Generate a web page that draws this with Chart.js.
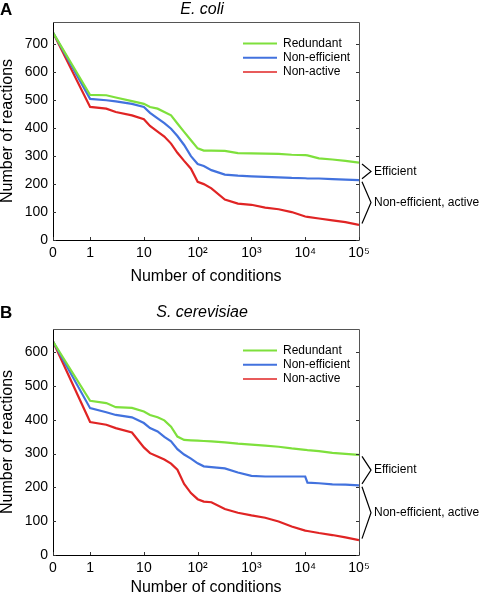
<!DOCTYPE html>
<html>
<head>
<meta charset="utf-8">
<script src="https://cdn.jsdelivr.net/npm/chart.js@4.4.1/dist/chart.umd.min.js"></script>
<style>
  body { margin: 0; background: #fff; }
  .panel { position: absolute; left: 0; width: 481px; }
</style>
</head>
<body>
<div class="panel" style="top:0;height:300px"><canvas id="chart-a"></canvas></div>
<div class="panel" style="top:300px;height:296px"><canvas id="chart-b"></canvas></div>
<script>
// number of conditions, shared by every curve
var conditions = [0, 1, 2, 3, 6, 10, 13, 18, 24, 32, 42, 56, 75, 100, 130, 180, 320, 560, 1000, 1800, 3200, 5600, 10000, 11000, 18000, 32000, 56000, 100000];

// A: E. coli
var ecoliRedundant    = [742, 519, 518, 510, 497, 487, 476, 470, 458, 446, 417, 387, 357, 328, 320, 320, 319, 311, 310, 309, 308, 305, 304, 303, 292, 288, 283, 277];
var ecoliNonEfficient = [742, 505, 500, 496, 487, 476, 455, 435, 418, 398, 372, 340, 300, 272, 265, 250, 234, 230, 228, 226, 224, 222, 221, 220, 220, 218, 216, 214];
var ecoliNonActive    = [742, 476, 470, 458, 446, 432, 408, 388, 370, 345, 312, 283, 255, 208, 200, 185, 145, 130, 126, 116, 110, 100, 84, 83, 77, 70, 64, 54];

// B: S. cerevisiae
var yeastRedundant    = [631, 456, 449, 437, 435, 424, 414, 407, 398, 379, 350, 340, 339, 338, 337, 336, 333, 329, 326, 323, 320, 315, 311, 310, 307, 302, 299, 296];
var yeastNonEfficient = [631, 434, 422, 414, 407, 390, 375, 365, 349, 336, 313, 297, 285, 271, 262, 260, 256, 244, 234, 232, 232, 232, 232, 214, 212, 209, 208, 206];
var yeastNonActive    = [631, 393, 385, 375, 362, 318, 301, 291, 282, 270, 252, 210, 183, 165, 158, 156, 136, 125, 117, 110, 99, 84, 72, 71, 65, 59, 52, 44];

var seriesNames = ['Redundant', 'Non-efficient', 'Non-active'];
var xTickValues = [0, 1, 10, 100, 1000, 10000, 100000];
var xTickLabels = ['0', '1', '10', '10\u00b2', '10\u00b3', '10\u2074', '10\u2075'];
var ecoliYTicks = [0, 100, 200, 300, 400, 500, 600, 700];
var yeastYTicks = [0, 100, 200, 300, 400, 500, 600];

var colors = ['#7ee03c', '#4272de', '#e02424'];
var FONT = "'Liberation Sans', Arial, sans-serif";

// log axis with the zero put a bit to the left of 1
var ZERO_POS = -0.69;
function pos(n) { return n === 0 ? ZERO_POS : Math.log10(n); }

var decor = {
  id: 'decor',
  afterDraw: function (chart, args, opts) {
    var ctx = chart.ctx, a = chart.chartArea;
    var xs = chart.scales.x, ys = chart.scales.y;
    ctx.save();
    ctx.lineWidth = 1;

    // box
    ctx.strokeStyle = '#000';
    ctx.beginPath();
    ctx.moveTo(a.left + 0.5, a.top);
    ctx.lineTo(a.left + 0.5, a.bottom + 0.5);
    ctx.lineTo(a.right + 0.5, a.bottom + 0.5);
    ctx.stroke();
    ctx.strokeStyle = '#555';
    ctx.beginPath();
    ctx.moveTo(a.left, a.top + 0.5);
    ctx.lineTo(a.right + 0.5, a.top + 0.5);
    ctx.lineTo(a.right + 0.5, a.bottom);
    ctx.stroke();

    // ticks pointing inwards
    ctx.strokeStyle = '#333';
    ctx.beginPath();
    xs.ticks.forEach(function (t) {
      var px = Math.round(xs.getPixelForValue(t.value)) + 0.5;
      ctx.moveTo(px, a.bottom); ctx.lineTo(px, a.bottom - 3);
    });
    ys.ticks.forEach(function (t) {
      var py = Math.round(ys.getPixelForValue(t.value)) + 0.5;
      ctx.moveTo(a.left, py); ctx.lineTo(a.left + 3, py);
      ctx.moveTo(a.right, py); ctx.lineTo(a.right - 3, py);
    });
    ctx.stroke();

    // legend in the upper right corner
    ctx.font = '12px ' + FONT;
    ctx.textBaseline = 'middle';
    ctx.textAlign = 'left';
    chart.data.datasets.forEach(function (ds, i) {
      var ly = a.top + 21.5 + i * 14.3;
      ctx.strokeStyle = ds.borderColor;
      ctx.lineWidth = i === 2 ? 1.5 : 2;
      ctx.beginPath();
      ctx.moveTo(a.right - 116, ly); ctx.lineTo(a.right - 82, ly);
      ctx.stroke();
      ctx.fillStyle = '#000';
      ctx.fillText(ds.label, a.right - 76, ly);
    });

    // braces between curve ends
    ctx.strokeStyle = '#000';
    ctx.lineWidth = 1.2;
    opts.braces.forEach(function (b) {
      var d1 = chart.data.datasets[b[0]].data, d2 = chart.data.datasets[b[1]].data;
      var y1 = ys.getPixelForValue(d1[d1.length - 1].y) + 1.5;
      var y2 = ys.getPixelForValue(d2[d2.length - 1].y) - 1.5;
      var mid = (y1 + y2) / 2;
      ctx.beginPath();
      ctx.moveTo(a.right + 3, y1);
      ctx.lineTo(a.right + 12, mid);
      ctx.lineTo(a.right + 3, y2);
      ctx.stroke();
      ctx.fillText(b[2], a.right + 15, mid);
    });

    // panel letter and title
    ctx.font = 'bold 17px ' + FONT;
    ctx.fillText(opts.letter, 0, opts.titleY);
    ctx.font = 'italic 16px ' + FONT;
    ctx.textAlign = 'center';
    ctx.fillText(opts.title, (a.left + a.right) / 2 - 4, opts.titleY);
    ctx.restore();
  }
};

function makeChart(id, values, yMax, yTicks, cfg) {
  var datasets = values.map(function (vals, i) {
    return {
      label: seriesNames[i],
      data: conditions.map(function (n, k) { return { x: pos(n), y: vals[k] }; }),
      borderColor: colors[i],
      borderWidth: 2.2,
      pointRadius: 0,
      tension: 0,
      fill: false
    };
  });
  return new Chart(document.getElementById(id), {
    type: 'line',
    data: { datasets: datasets },
    plugins: [decor],
    options: {
      responsive: true,
      maintainAspectRatio: false,
      animation: false,
      layout: { padding: { top: cfg.top, right: 122, left: 0, bottom: 0 } },
      plugins: {
        legend: { display: false },
        tooltip: { enabled: false },
        decor: {
          letter: cfg.letter,
          title: cfg.title,
          titleY: cfg.titleY,
          braces: [[0, 1, 'Efficient'], [1, 2, 'Non-efficient, active']]
        }
      },
      scales: {
        x: {
          type: 'linear',
          min: ZERO_POS,
          max: 5,
          afterFit: function (s) { s.height = cfg.xHeight; },
          afterBuildTicks: function (s) {
            s.ticks = xTickValues.map(function (n) { return { value: pos(n) }; });
          },
          grid: { display: false, drawTicks: false },
          border: { display: false },
          ticks: {
            padding: 5,
            color: '#000',
            font: { family: FONT, size: 14 },
            maxRotation: 0,
            autoSkip: false,
            callback: function (v, i) { return xTickLabels[i]; }
          },
          title: {
            display: true,
            text: 'Number of conditions',
            color: '#000',
            font: { family: FONT, size: 16, lineHeight: 1 },
            padding: { top: 0, bottom: cfg.xTitlePad }
          }
        },
        y: {
          min: 0,
          max: yMax,
          afterFit: function (s) { s.width = 53; },
          afterBuildTicks: function (s) {
            s.ticks = yTicks.map(function (v) { return { value: v }; });
          },
          grid: { display: false, drawTicks: false },
          border: { display: false },
          ticks: {
            padding: 5,
            color: '#000',
            font: { family: FONT, size: 14 }
          },
          title: {
            display: true,
            text: 'Number of reactions',
            color: '#000',
            font: { family: FONT, size: 16, lineHeight: 1 },
            padding: { top: 0, bottom: 0 }
          }
        }
      }
    }
  });
}

makeChart('chart-a', [ecoliRedundant, ecoliNonEfficient, ecoliNonActive], 780, ecoliYTicks,
  { top: 22, xHeight: 60, xTitlePad: 15, letter: 'A', title: 'E. coli', titleY: 10 });
makeChart('chart-b', [yeastRedundant, yeastNonEfficient, yeastNonActive], 668, yeastYTicks,
  { top: 29, xHeight: 41, xTitlePad: 0, letter: 'B', title: 'S. cerevisiae', titleY: 13 });
</script>
</body>
</html>
